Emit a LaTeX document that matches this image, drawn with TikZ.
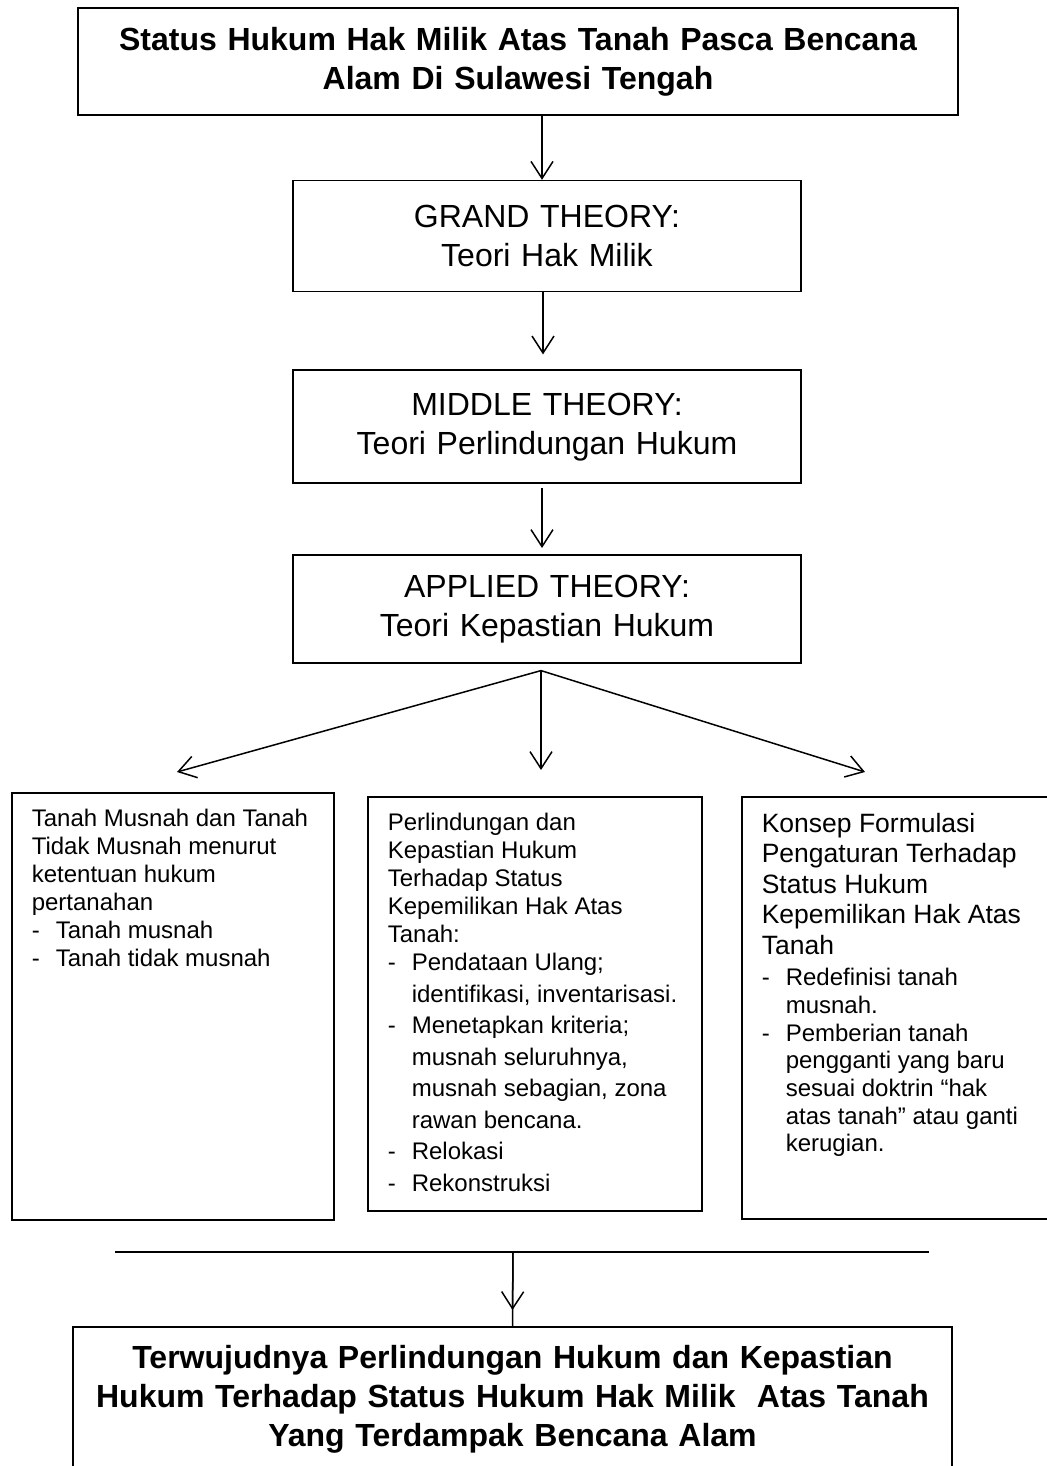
\documentclass[tikz,border=0pt]{standalone}
\usepackage{fontspec}
\setmainfont{Liberation Sans}
\usepackage{tikz}
\usetikzlibrary{arrows.meta, positioning}
\tikzstyle{headbox} = [rectangle, draw=black, line width=1.6pt, minimum width=880pt, minimum height=107pt, text width=850pt, align=center, font={\fontsize{32}{39}\selectfont\bfseries}]
\tikzstyle{theory} = [rectangle, draw=black, line width=1.6pt, minimum width=508pt, text width=480pt, align=center, font={\fontsize{32}{39}\selectfont}]
\tikzstyle{listbox} = [rectangle, draw=black, line width=1.6pt, anchor=north west, inner xsep=20pt, inner ysep=16pt, font={\fontsize{24}{28}\selectfont}]
\tikzstyle{arrow} = [line width=1.5pt, -{Straight Barb[length=17pt, width=22pt]}]
\tikzstyle{connector} = [line width=1.5pt]
\newcommand{\dashitem}[1]{\par\noindent\hangindent=24pt\hangafter=1\makebox[24pt][l]{-}#1}

\begin{document}
\begin{tikzpicture}[x=1pt, y=-1pt]
    \useasboundingbox (0,0) rectangle (1046,1466);

    \node (title) [headbox] at (518,61.5) {Status Hukum Hak Milik Atas Tanah Pasca Bencana\\Alam Di Sulawesi Tengah};
    \node (grand) [theory, minimum height=111pt, below=64pt of title, xshift=29pt] {GRAND THEORY:\\Teori Hak Milik};
    \node (middle) [theory, minimum height=113pt, below=77pt of grand] {MIDDLE THEORY:\\Teori Perlindungan Hukum};
    \node (applied) [theory, minimum height=108pt, below=70pt of middle] {APPLIED THEORY:\\Teori Kepastian Hukum};

    \node (musnah) [listbox] at (11,792) {\begin{minipage}[t][395pt][t]{282pt}
        Tanah Musnah dan Tanah\\
        Tidak Musnah menurut\\
        ketentuan hukum\\
        pertanahan
        \dashitem{Tanah musnah}
        \dashitem{Tanah tidak musnah}
    \end{minipage}};
    \node (lindung) [listbox] at (367,796) {\begin{minipage}[t][382pt][t]{294pt}
        Perlindungan dan\\
        Kepastian Hukum\\
        Terhadap Status\\
        Kepemilikan Hak Atas\\
        Tanah:\par
        \fontsize{24}{31.5}\selectfont\vspace{-3pt}
        \dashitem{Pendataan Ulang;\\identifikasi,~inventarisasi.}
        \dashitem{Menetapkan kriteria;\\musnah seluruhnya,\\musnah sebagian,~zona\\rawan bencana.}
        \dashitem{Relokasi}
        \dashitem{Rekonstruksi}
    \end{minipage}};
    \node (konsep) [listbox] at (741,796) {\begin{minipage}[t][390pt][t]{300pt}
        \fontsize{26.5}{30.5}\selectfont
        Konsep Formulasi\\
        Pengaturan Terhadap\\
        Status Hukum\\
        Kepemilikan Hak Atas\\
        Tanah\par
        \fontsize{24}{27.7}\selectfont\vspace{4pt}
        \dashitem{Redefinisi tanah\\musnah.}
        \dashitem{Pemberian tanah\\pengganti yang baru\\sesuai doktrin “hak\\atas tanah” atau ganti\\kerugian.}
    \end{minipage}};

    \node (result) [headbox, minimum width=879pt, minimum height=145pt, anchor=north] at (512.5,1326) {Terwujudnya Perlindungan Hukum dan Kepastian\\Hukum Terhadap Status Hukum Hak Milik\ \ Atas Tanah\\Yang Terdampak Bencana Alam};

    \coordinate (fork) at ([xshift=-6pt, yshift=-7pt]applied.south);
    \coordinate (tipL) at (177,772);
    \coordinate (tipM) at (541,770);
    \coordinate (tipR) at (865,772);
    \coordinate (barL) at (115,1252);
    \coordinate (barR) at (929,1252);
    \coordinate (bar) at (513,1252);

    \draw [arrow] ([xshift=-5pt]grand.north |- title.south) -- ([xshift=-5pt]grand.north);
    \draw [arrow] ([xshift=-4pt]grand.south) -- ([xshift=-4pt, yshift=15pt]middle.north);
    \draw [arrow] ([xshift=-5pt, yshift=-4pt]middle.south) -- ([xshift=-5pt, yshift=6pt]applied.north);
    \draw [arrow] (fork) -- (tipL);
    \draw [arrow] (fork) -- (tipM);
    \draw [arrow] (fork) -- (tipR);
    \draw [connector] (barL) -- (barR);
    \draw [connector] (bar) -- (result.north);
    \draw [arrow] (bar) -- ([yshift=16pt]result.north);
\end{tikzpicture}
\end{document}
